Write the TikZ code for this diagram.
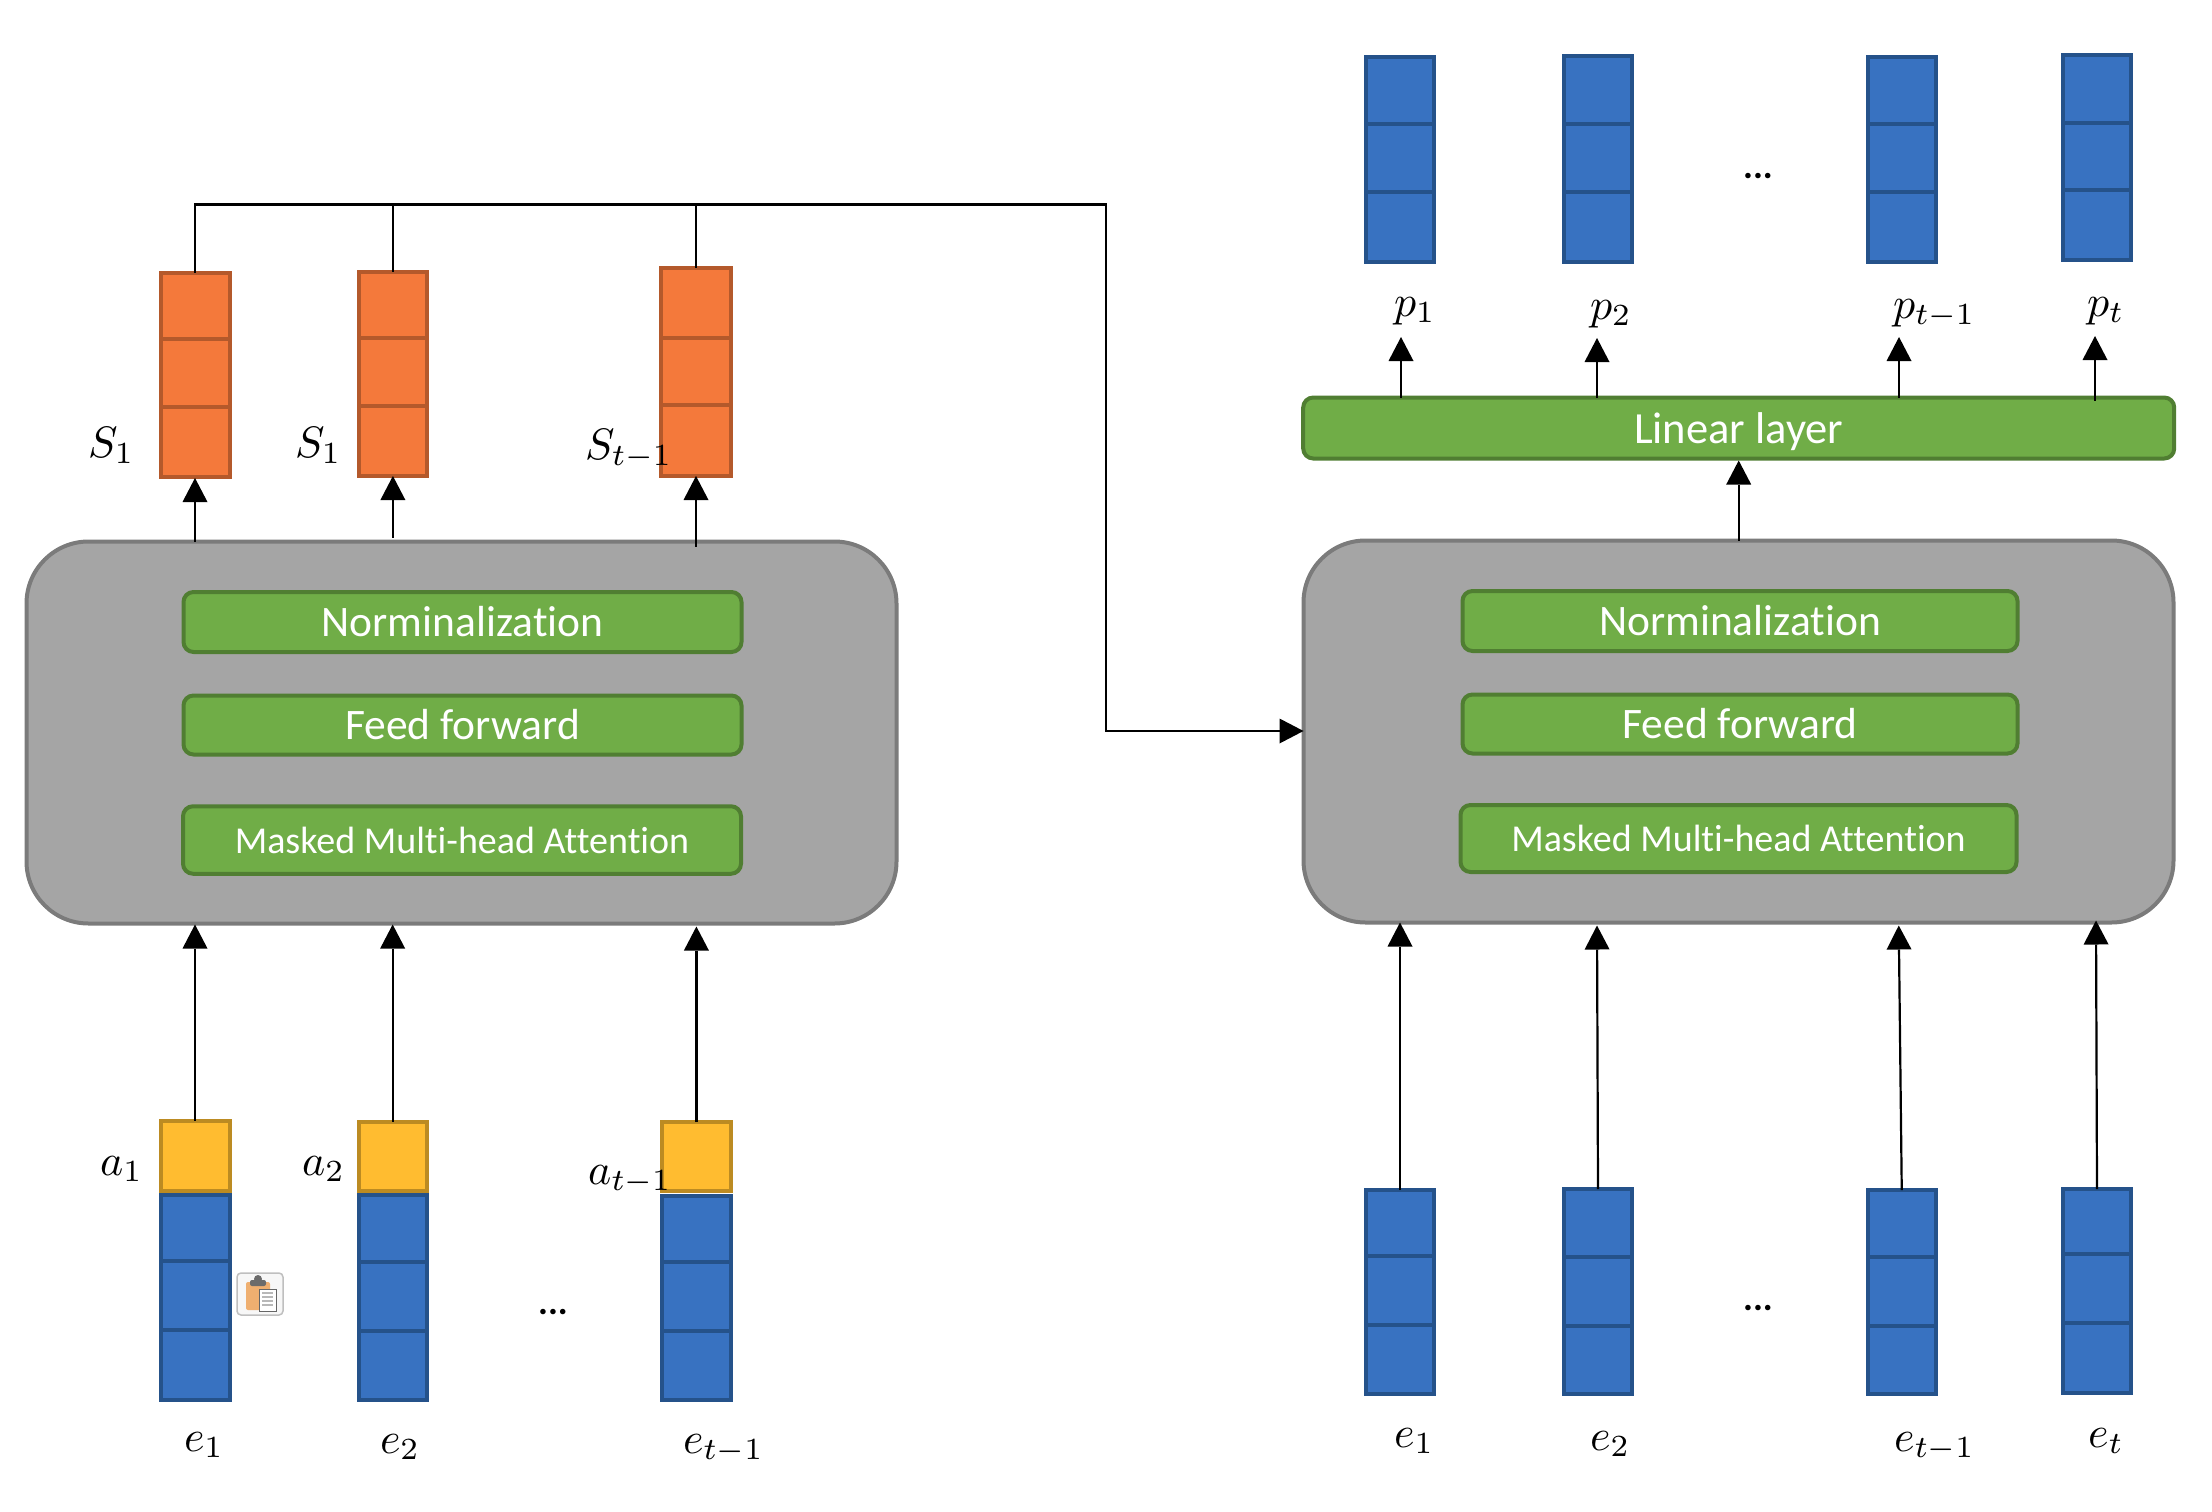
\documentclass[tikz,border=0pt]{standalone}
\usepackage{fontspec}
\setmainfont{Carlito}[RawFeature=-liga]
\usetikzlibrary{arrows.meta,calc}
\definecolor{bluef}{HTML}{3872C1}
\definecolor{blued}{HTML}{25528A}
\definecolor{orgf}{HTML}{F4793B}
\definecolor{orgd}{HTML}{B4592B}
\definecolor{yelf}{HTML}{FFBC30}
\definecolor{yeld}{HTML}{BC8B22}
\definecolor{grnf}{HTML}{70AD47}
\definecolor{grnd}{HTML}{507E32}
\definecolor{gryf}{HTML}{A5A5A5}
\definecolor{gryd}{HTML}{7B7B7B}
\tikzset{
  cell/.style={rectangle,inner sep=0pt,outer sep=0pt,line width=4pt},
  bluecell/.style={cell,draw=blued,fill=bluef},
  orangecell/.style={cell,draw=orgd,fill=orgf},
  yellowcell/.style={cell,draw=yeld,fill=yelf},
  panel/.style={rectangle,rounded corners=62pt,draw=gryd,fill=gryf,line width=4pt,inner sep=0pt,outer sep=0pt},
  greenbox/.style={rectangle,rounded corners=10pt,draw=grnd,fill=grnf,line width=4pt,inner sep=0pt,outer sep=0pt,text=white},
  bigtext/.style={font=\fontsize{43.5}{46}\selectfont},
  lintext/.style={font=\fontsize{44.5}{46}\selectfont},
  smalltext/.style={font=\fontsize{38}{40}\selectfont},
  dots/.style={font=\bfseries\fontsize{37}{40}\selectfont,inner sep=0pt},
  mathlabel/.style={scale=4.4,anchor=base west,inner sep=0pt,outer sep=0pt},
  link/.style={line width=2.2pt,black},
  arrow/.style={link,-{Triangle[length=24pt,width=25pt,line width=0pt]}},
}
\colorlet{bluecellcol}{blued}
\colorlet{orangecellcol}{orgd}
% name, x1, x2, y1, y2 (outer), divider 1, divider 2, style
\newcommand{\colbar}[8]{%
  \node[#8,minimum width={(#3-#2-3)*1pt},minimum height={(#5-#4-3)*1pt}] (#1) at ({(#2+#3)/2},{(#4+#5)/2}) {};
  \draw[line width=4pt,draw=#8col] (#1.west |- 0,#6) -- (#1.east |- 0,#6) (#1.west |- 0,#7) -- (#1.east |- 0,#7);
}
\newcommand{\boxat}[6]{%
  \node[#6,minimum width={(#3-#2-3)*1pt},minimum height={(#5-#4-3)*1pt}] (#1) at ({(#2+#3)/2},{(#4+#5)/2}) {};
}
\begin{document}
\begin{tikzpicture}[x=1pt,y=-1pt]
\useasboundingbox (0,0) rectangle (2212,1512);
% panels
\boxat{PL}{25}{898}{540}{925}{panel}
\boxat{PR}{1302}{2175}{539}{924}{panel}
% green boxes
\node[greenbox,bigtext,minimum width=558pt,minimum height=60pt] (nl) at (462.5,622) {Norminalization};
\node[greenbox,bigtext,minimum width=558pt,minimum height=59pt] (fl) at (462.5,725) {Feed forward};
\node[greenbox,smalltext,minimum width=558pt,minimum height=67.5pt] (ml) at (462,840) {Masked Multi-head Attention};
\node[greenbox,bigtext,minimum width=555pt,minimum height=60pt] (nr) at (1740,621) {Norminalization};
\node[greenbox,bigtext,minimum width=555pt,minimum height=59pt] (fr) at (1740,724) {Feed forward};
\node[greenbox,smalltext,minimum width=556pt,minimum height=67pt] (mr) at (1738.5,838.5) {Masked Multi-head Attention};
\node[greenbox,lintext,minimum width=871pt,minimum height=61pt] (lin) at (1738.7,428) {\raisebox{-4pt}[\height][\depth]{Linear layer}};
% orange
\colbar{sa}{159}{231}{271}{478.5}{339}{407}{orangecell}
\colbar{sb}{357.3}{428.5}{270}{477}{338}{406}{orangecell}
\colbar{sc}{659.5}{732.5}{266}{477}{338}{405}{orangecell}
% top blue
\colbar{ta}{1364.5}{1435.5}{56}{263}{124}{192}{bluecell}
\colbar{tb}{1562.5}{1633.5}{55}{263.5}{124}{192}{bluecell}
\colbar{tc}{1866}{1937}{56}{263.5}{124}{192}{bluecell}
\colbar{td}{2061.5}{2132.5}{54}{261.5}{123}{190}{bluecell}
% left bottom
\boxat{aa}{159}{231}{1119}{1192}{yellowcell}
\boxat{ab}{357.3}{428}{1120}{1192}{yellowcell}
\boxat{ac}{660.3}{732.5}{1120.5}{1192.5}{yellowcell}
\colbar{ea}{159}{231}{1193}{1401}{1261}{1330}{bluecell}
\colbar{eb}{357.3}{428}{1193}{1401.5}{1262}{1331}{bluecell}
\colbar{ec}{660.3}{732.5}{1194}{1401.5}{1262}{1331}{bluecell}
% right bottom
\colbar{fa}{1364.5}{1435.5}{1188.5}{1395.5}{1256}{1325}{bluecell}
\colbar{fb}{1562.5}{1633.5}{1187.5}{1395.5}{1257}{1326}{bluecell}
\colbar{fc}{1866.5}{1937}{1188.5}{1395.5}{1257}{1326}{bluecell}
\colbar{fd}{2061.5}{2132.5}{1187.5}{1394}{1254}{1323}{bluecell}
% bus
\coordinate (busA) at (195,204.5);
\coordinate (busB) at (1106,204.5);
\coordinate (busC) at (1106,731);
\draw[arrow] (sa.north) -- (busA) -- (busB) -- (busC) -- (PR.west |- busC);
\draw[link] (sb.north) -- (sb.north |- busA);
\draw[link] (sc.north) -- (sc.north |- busA);
% arrows to orange
\draw[arrow] (sa.south |- PL.north) -- ([yshift=-1pt]sa.south);
\draw[arrow] ([yshift=4pt]sb.south |- PL.north) -- ([yshift=-.5pt]sb.south);
\draw[arrow] ([yshift=-5pt]sc.south |- PL.north) -- ([yshift=-.5pt]sc.south);
% arrows to panel left
\draw[arrow] (aa.north) -- ([yshift=-1pt]aa.north |- PL.south);
\draw[arrow] (ab.north) -- ([yshift=-1pt]ab.north |- PL.south);
\draw[arrow] (ac.north) -- ([yshift=-3pt]ac.north |- PL.south);
% arrows to panel right
\draw[arrow] (fa.north) -- (fa.north |- PR.south);
\draw[arrow] (fb.north) -- ([xshift=-1pt,yshift=-3pt]fb.north |- PR.south);
\draw[arrow] (fc.north) -- ([xshift=-3pt,yshift=-3pt]fc.north |- PR.south);
\draw[arrow] (fd.north) -- ([xshift=-1pt,yshift=2pt]fd.north |- PR.south);
% arrows linear
\draw[arrow] (lin.south |- PR.north) -- ([yshift=-2pt]lin.south);
\coordinate (pta) at (1401,337);
\coordinate (ptb) at (1597,338);
\coordinate (ptc) at (1899,337);
\coordinate (ptd) at (2095,336);
\draw[arrow] (pta |- lin.north) -- (pta);
\draw[arrow] (ptb |- lin.north) -- (ptb);
\draw[arrow] (ptc |- lin.north) -- (ptc);
\draw[arrow] ([yshift=-3pt]ptd |- lin.north) -- (ptd);
% dots
\node[dots] (d1) at (553,1312) {...};
\node[dots] (d2) at (1758,1308) {...};
\node[dots] (d3) at (1758,176) {...};
% labels
\node[mathlabel] (lS1) at (88,457) {$S_1$};
\node[mathlabel] (lS2) at (295,457) {$S_1$};
\node[mathlabel] (lS3) at (585,459) {$S_{t-1}$};
\node[mathlabel] (la1) at (100,1175) {$a_1$};
\node[mathlabel] (la2) at (302,1175) {$a_2$};
\node[mathlabel] (la3) at (588,1184) {$a_{t-1}$};
\node[mathlabel] (le1) at (184,1451) {$e_1$};
\node[mathlabel] (le2) at (380,1453) {$e_2$};
\node[mathlabel] (le3) at (683,1453) {$e_{t-1}$};
\node[mathlabel] (lf1) at (1394,1447) {$e_1$};
\node[mathlabel] (lf2) at (1590,1450) {$e_2$};
\node[mathlabel] (lf3) at (1894,1451) {$e_{t-1}$};
\node[mathlabel] (lf4) at (2088,1447) {$e_t$};
\node[mathlabel] (lp1) at (1394,316) {$p_1$};
\node[mathlabel] (lp2) at (1590,319) {$p_2$};
\node[mathlabel] (lp3) at (1893,318) {$p_{t-1}$};
\node[mathlabel] (lp4) at (2087,316) {$p_t$};
% clipboard icon
\draw[draw=black!25,fill=black!3,line width=1.5pt,rounded corners=4pt] (237,1273) rectangle (283,1315);
\fill[fill=orange!50!white!75!brown,rounded corners=2pt] (246,1282) rectangle (270,1310);
\fill[black!58,rounded corners=2pt] (250,1280) rectangle (266,1286);
\fill[black!58] (258,1279) circle (4pt);
\draw[black!60,fill=white,line width=1pt] (259,1289) rectangle (276,1311);
\foreach \yy in {1293,1297,1301,1305}{\draw[black!28,line width=1.6pt] (262,\yy) -- (273,\yy);}
\end{tikzpicture}
\end{document}
